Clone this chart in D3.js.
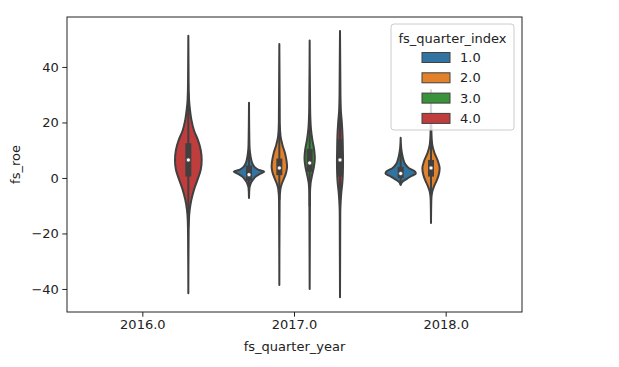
<!DOCTYPE html>
<html><head><meta charset="utf-8">
<script src="https://cdn.jsdelivr.net/npm/d3@7"></script>
<style>body{margin:0;background:#fff;}svg{display:block;font-family:"DejaVu Sans",sans-serif;}</style>
</head><body><svg id="c" width="619" height="367"></svg>
<script>
// ---- data ----
const years = ["2016.0", "2017.0", "2018.0"];
const quarters = ["1.0", "2.0", "3.0", "4.0"];
const colors = ["#3274a1", "#e1812c", "#3a923a", "#c03d3e"];
const yTicks = [-40, -20, 0, 20, 40];

// each violin: year, quarter, profile [value, relative half-width]
const violinYear    = ["2016.0", "2017.0", "2017.0", "2017.0", "2017.0", "2018.0", "2018.0"];
const violinQuarter = ["4.0",    "1.0",    "2.0",    "3.0",    "4.0",    "1.0",    "2.0"];
const violinQ1      = [0.5,  -1.0, 1.0, 2.2, 0.5, 0.0, 0.5];
const violinMedian  = [6.5,   1.2, 3.6, 5.4, 6.5, 1.6, 3.6];
const violinQ3      = [12.5,  4.5, 7.0, 10.5, 14.0, 4.0, 6.5];
const violinProfile = [
  [[51.2,0],[34,0.02],[28,0.05],[24.5,0.11],[21,0.2],[17,0.38],[13.7,0.63],[10,0.82],[6.5,0.88],[3,0.82],[-0.7,0.6],[-4.3,0.37],[-7.9,0.2],[-11.5,0.09],[-15,0.04],[-20,0.02],[-41.5,0]],
  [[27.1,0],[12,0.03],[9,0.07],[7,0.13],[5,0.24],[4,0.36],[3,0.6],[2.2,1.0],[1.5,0.72],[0.5,0.45],[-0.5,0.28],[-1.5,0.16],[-2.5,0.08],[-3.5,0.03],[-7.2,0]],
  [[48.3,0],[20,0.03],[15,0.08],[12,0.2],[9,0.37],[6,0.48],[4,0.51],[2,0.45],[0,0.32],[-2,0.17],[-4,0.07],[-8,0.02],[-38.6,0]],
  [[49.5,0],[25,0.03],[18,0.08],[14,0.17],[10,0.3],[7,0.34],[4,0.28],[1,0.16],[-2,0.06],[-6,0.02],[-40,0]],
  [[53,0],[30,0.03],[24,0.06],[20,0.12],[15,0.17],[10,0.19],[6,0.2],[2,0.19],[-2,0.15],[-5,0.09],[-8,0.05],[-12,0.02],[-43,0]],
  [[14.5,0],[11,0.03],[9,0.08],[7,0.16],[5,0.3],[3.5,0.55],[2.3,0.95],[1.6,1.0],[0.8,0.75],[0,0.5],[-0.8,0.26],[-1.5,0.1],[-2.5,0]],
  [[31.7,0],[16,0.03],[12,0.08],[9,0.23],[6,0.46],[3.5,0.57],[1,0.5],[-1,0.37],[-3,0.2],[-5,0.08],[-8,0.02],[-16.2,0]]
];

// ---- layout ----
const svg = d3.select("#c");
const L = 67, R = 522, T = 17, B = 312;
const gray = "#404040";
const textCol = "#222";

const x = d3.scaleBand().domain(years).range([L, R]).padding(0);
const bw = x.bandwidth();
const xh = d3.scaleBand().domain(quarters).range([-0.4 * bw, 0.4 * bw]).padding(0);
const y = d3.scaleLinear().domain([-48.3, 58]).range([B, T]);
const halfMax = xh.bandwidth() / 2;

const gV = svg.append("g");
violinProfile.forEach((prof, i) => {
  const cx = x(violinYear[i]) + bw / 2 + xh(violinQuarter[i]) + xh.bandwidth() / 2;
  const qi = quarters.indexOf(violinQuarter[i]);
  const area = d3.area()
    .y(d => y(d[0]))
    .x0(d => cx - d[1] * halfMax)
    .x1(d => cx + d[1] * halfMax)
    .curve(d3.curveMonotoneY);
  const sorted = prof.slice().sort((a, b) => b[0] - a[0]);
  gV.append("path").attr("d", area(sorted))
    .attr("fill", colors[qi]).attr("stroke", gray).attr("stroke-width", 2)
    .attr("stroke-linejoin", "round");
  const q1 = violinQ1[i], q3 = violinQ3[i], iqr = q3 - q1;
  const vmin = sorted[sorted.length - 1][0], vmax = sorted[0][0];
  const lo = Math.max(vmin, q1 - 1.5 * iqr), hi = Math.min(vmax, q3 + 1.5 * iqr);
  gV.append("line").attr("x1", cx).attr("x2", cx).attr("y1", y(lo)).attr("y2", y(hi))
    .attr("stroke", gray).attr("stroke-width", 2);
  gV.append("line").attr("x1", cx).attr("x2", cx).attr("y1", y(q1)).attr("y2", y(q3))
    .attr("stroke", gray).attr("stroke-width", 6);
  gV.append("circle").attr("cx", cx).attr("cy", y(violinMedian[i])).attr("r", 2)
    .attr("fill", "white").attr("stroke", gray).attr("stroke-width", 0.6);
});

// ---- axes ----
const xAxis = d3.axisBottom(x).tickSize(4.7).tickPadding(3.5);
const gx = svg.append("g").attr("transform", `translate(0,${B})`).call(xAxis);
const yAxis = d3.axisLeft(y).tickValues(yTicks).tickSize(4.7).tickPadding(3.5)
  .tickFormat(d => d < 0 ? "\u2212" + Math.abs(d) : String(d));
const gy = svg.append("g").attr("transform", `translate(${L},0)`).call(yAxis);
[gx, gy].forEach(g => {
  g.select(".domain").remove();
  g.selectAll(".tick line").attr("stroke", textCol).attr("stroke-width", 1);
  g.selectAll(".tick text").attr("fill", textCol).style("font-size", "13px")
    .style("font-family", "DejaVu Sans");
});
svg.append("rect").attr("x", L).attr("y", T).attr("width", R - L).attr("height", B - T)
  .attr("fill", "none").attr("stroke", textCol).attr("stroke-width", 1);

svg.append("text").attr("x", (L + R) / 2).attr("y", 351).attr("text-anchor", "middle")
  .attr("fill", textCol).style("font-size", "13px").text("fs_quarter_year");
svg.append("text").attr("transform", `translate(20,${(T + B) / 2}) rotate(-90)`)
  .attr("text-anchor", "middle").attr("fill", textCol).style("font-size", "13px").text("fs_roe");

// ---- legend ----
const lg = svg.append("g");
lg.append("rect").attr("x", 391).attr("y", 24).attr("width", 123).attr("height", 106).attr("rx", 3)
  .attr("fill", "white").attr("fill-opacity", 0.8).attr("stroke", "#cccccc").attr("stroke-width", 1);
lg.append("text").attr("x", 452.5).attr("y", 42.5).attr("text-anchor", "middle")
  .attr("fill", textCol).style("font-size", "13px").text("fs_quarter_index");
quarters.forEach((q, i) => {
  const cy = 57.5 + i * 20.3;
  lg.append("rect").attr("x", 422).attr("y", cy - 5).attr("width", 28).attr("height", 10)
    .attr("fill", colors[i]).attr("stroke", gray).attr("stroke-width", 1);
  lg.append("text").attr("x", 460).attr("y", cy + 4.5).attr("fill", textCol)
    .style("font-size", "13px").text(q);
});
</script></body></html>
